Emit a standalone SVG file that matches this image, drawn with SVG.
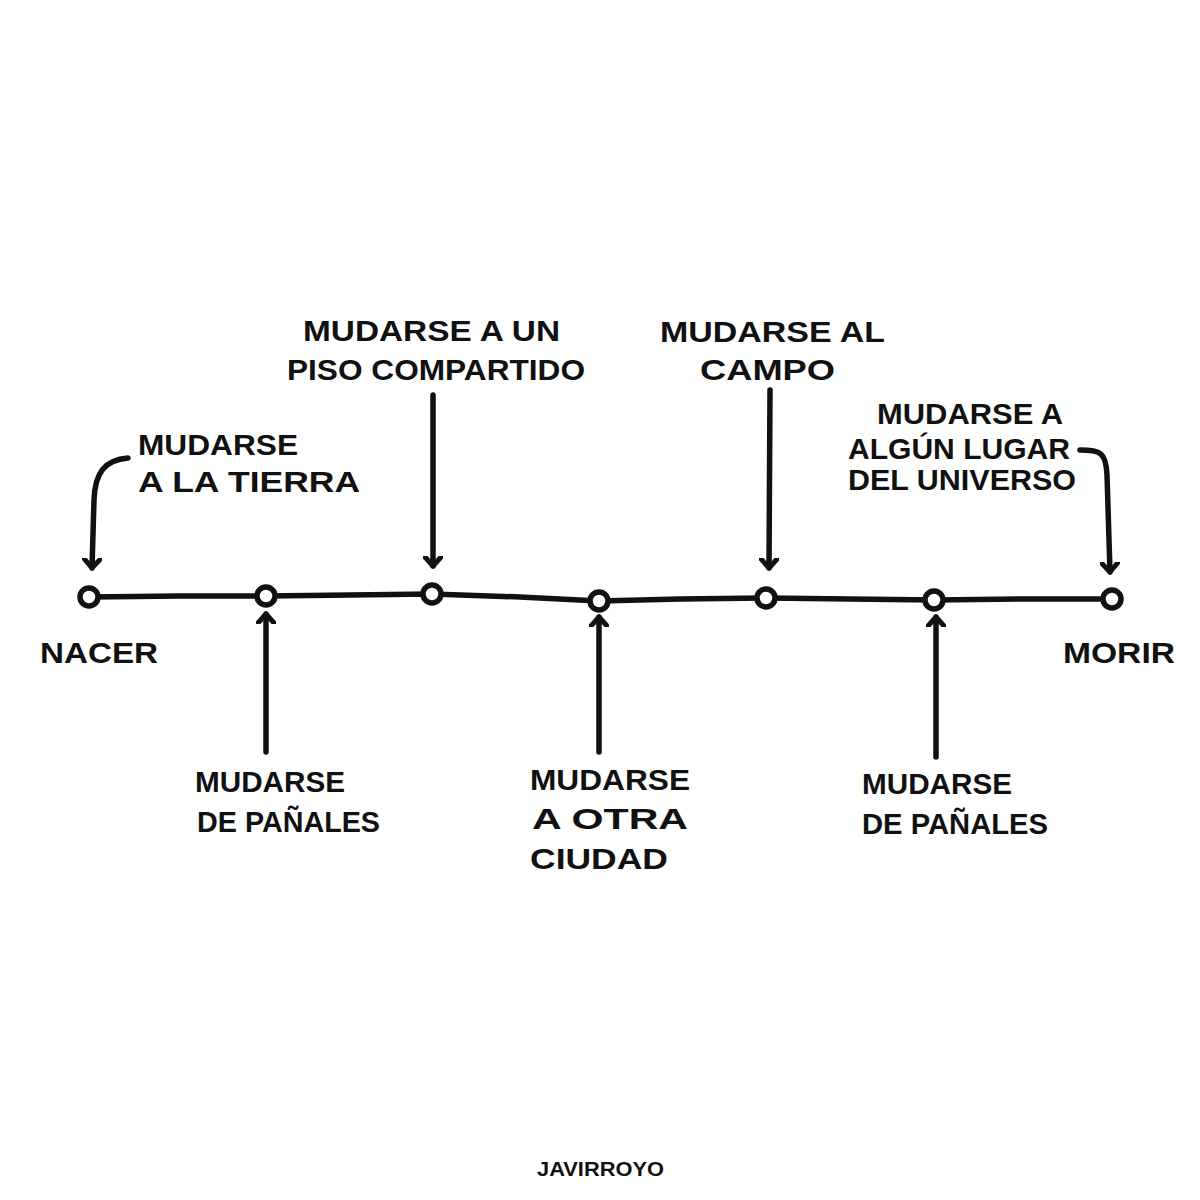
<svg xmlns="http://www.w3.org/2000/svg" width="1200" height="1200" viewBox="0 0 1200 1200">
<style>
text{font-family:"Liberation Sans","DejaVu Sans",sans-serif;font-weight:bold;font-size:30px;fill:#111}
.ln{fill:none;stroke:#111;stroke-width:5.5;stroke-linecap:round;stroke-linejoin:round}
.nd{fill:#fff;stroke:#111;stroke-width:5.5}
.sig{font-size:20px}
</style>
<defs>
<marker id="ah" viewBox="-10 -10 20 20" markerWidth="20" markerHeight="20" refX="0" refY="0" orient="auto" markerUnits="userSpaceOnUse">
<path d="M-9,-8 L0,0 L-9,8" fill="none" stroke="#111" stroke-width="5" stroke-linecap="round" stroke-linejoin="round"/>
</marker>
</defs>
<rect width="1200" height="1200" fill="#fff"/>
<g id="connectors">
<path class="ln" d="M89,597 L180,596 L266,596 L350,595 L432,594 L520,597 L599,601 L680,599 L766,598 L850,599 L934,600 L1020,599 L1112,599"/>
<path class="ln" marker-end="url(#ah)" d="M128,458 C105,460 95,472 94,500 L92,568"/>
<path class="ln" marker-end="url(#ah)" d="M433,395 L433,566"/>
<path class="ln" marker-end="url(#ah)" d="M770,390 L769,568"/>
<path class="ln" marker-end="url(#ah)" d="M1080,450 C1100,450 1106,452 1107,475 L1110,572"/>
<path class="ln" marker-end="url(#ah)" d="M266,752 L266,614"/>
<path class="ln" marker-end="url(#ah)" d="M599,752 L599,617"/>
<path class="ln" marker-end="url(#ah)" d="M936,757 L936,617"/>
</g>
<g id="node-nacer"><circle class="nd" cx="89" cy="597" r="9"/><text x="40" y="663" textLength="118" lengthAdjust="spacingAndGlyphs">NACER</text></g>
<g id="node-tierra"><text x="138" y="455" textLength="160" lengthAdjust="spacingAndGlyphs">MUDARSE</text><text x="138" y="492" textLength="222" lengthAdjust="spacingAndGlyphs">A LA TIERRA</text></g>
<g id="node-panales1"><circle class="nd" cx="266" cy="596" r="9"/><text x="195" y="792" textLength="150" lengthAdjust="spacingAndGlyphs">MUDARSE</text><text x="197" y="832" textLength="183" lengthAdjust="spacingAndGlyphs">DE PAÑALES</text></g>
<g id="node-piso"><circle class="nd" cx="432" cy="594" r="9"/><text x="303" y="341" textLength="257" lengthAdjust="spacingAndGlyphs">MUDARSE A UN</text><text x="287" y="380" textLength="298" lengthAdjust="spacingAndGlyphs">PISO COMPARTIDO</text></g>
<g id="node-ciudad"><circle class="nd" cx="599" cy="601" r="9"/><text x="530" y="790" textLength="160" lengthAdjust="spacingAndGlyphs">MUDARSE</text><text x="532" y="829" textLength="156" lengthAdjust="spacingAndGlyphs">A OTRA</text><text x="530" y="869" textLength="138" lengthAdjust="spacingAndGlyphs">CIUDAD</text></g>
<g id="node-campo"><circle class="nd" cx="766" cy="598" r="9"/><text x="660" y="342" textLength="225" lengthAdjust="spacingAndGlyphs">MUDARSE AL</text><text x="700" y="380" textLength="135" lengthAdjust="spacingAndGlyphs">CAMPO</text></g>
<g id="node-panales2"><circle class="nd" cx="934" cy="600" r="9"/><text x="862" y="794" textLength="150" lengthAdjust="spacingAndGlyphs">MUDARSE</text><text x="862" y="834" textLength="186" lengthAdjust="spacingAndGlyphs">DE PAÑALES</text></g>
<g id="node-universo"><text x="877" y="424" textLength="186" lengthAdjust="spacingAndGlyphs">MUDARSE A</text><text x="848" y="459" textLength="222" lengthAdjust="spacingAndGlyphs">ALGÚN LUGAR</text><text x="848" y="490" textLength="228" lengthAdjust="spacingAndGlyphs">DEL UNIVERSO</text></g>
<g id="node-morir"><circle class="nd" cx="1112" cy="599" r="9"/><text x="1063" y="663" textLength="112" lengthAdjust="spacingAndGlyphs">MORIR</text></g>
<text class="sig" x="537" y="1176" textLength="127" lengthAdjust="spacingAndGlyphs">JAVIRROYO</text>
</svg>
